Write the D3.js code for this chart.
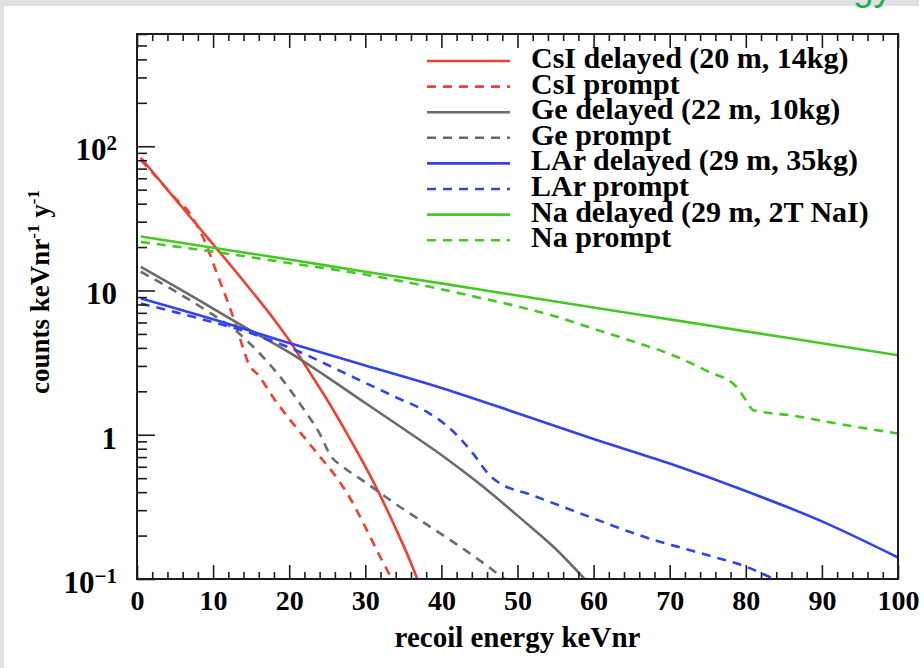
<!DOCTYPE html>
<html><head><meta charset="utf-8">
<script src="https://cdn.jsdelivr.net/npm/d3@7"></script>
<style>
html,body{margin:0;padding:0;background:#fff;}
svg{display:block;}
</style></head>
<body>
<svg id="chart" width="924" height="668"></svg>
<script>
// ---- data ----
const csiDelayedE = [0.5,5,10,15,18,20,22,25,28,31,34,36,37.2];
const csiDelayedV = [83.2,43.2,20.9,10.0,6.31,4.52,3.09,1.74,0.933,0.479,0.224,0.129,0.089];
const csiPromptE = [0.5,3,5,7,8,9,10,11,12,13,14,14.6,16,18,20,22,24,26,28,30,32,33.7];
const csiPromptV = [80.4,57.5,43.7,33.9,27.5,21.4,15.5,11.2,8.13,5.75,3.89,3.16,2.57,1.78,1.29,0.955,0.708,0.525,0.363,0.229,0.141,0.0955];
const geDelayedE = [0.5,5,10,15,20,25,30,35,40,45,50,55,59];
const geDelayedV = [14.6,10.7,7.5,5.25,3.72,2.51,1.66,1.10,0.724,0.457,0.275,0.162,0.0977];
const gePromptE = [0.5,5,9,13,16,19,22,24,25.5,27,30,34,38,42,45,48.3];
const gePromptV = [13.5,9.89,7.33,5.25,3.72,2.45,1.48,1.02,0.708,0.603,0.468,0.331,0.240,0.174,0.135,0.100];
const larDelayedE = [0.5,10,20,30,40,50,60,70,80,90,100];
const larDelayedV = [8.81,6.31,4.32,3.02,2.11,1.41,0.933,0.631,0.407,0.251,0.141];
const larPromptE = [0.5,5,10,14,18,22,26,30,34,38,41,44,46.5,47.5,52,56,60,64,68,72,76,80,82,84.5];
const larPromptV = [8.13,7.08,6.03,5.25,4.42,3.63,2.88,2.29,1.82,1.45,1.12,0.759,0.513,0.468,0.380,0.316,0.263,0.219,0.186,0.162,0.141,0.122,0.110,0.0955];
const naDelayedE = [0.5,10,20,30,40,50,60,70,80,90,100];
const naDelayedV = [23.7,19.8,16.4,13.5,11.2,9.23,7.62,6.31,5.21,4.31,3.56];
const naPromptE = [0.5,10,20,30,38.5,45,50,55,60,65,70,75,78.8,80,81,86,93,100];
const naPromptV = [21.7,18.6,15.5,12.9,10.6,8.91,7.76,6.61,5.43,4.47,3.63,2.75,2.14,1.74,1.48,1.36,1.17,1.02];

const seriesNames = ["CsI delayed (20 m, 14kg)","CsI prompt","Ge delayed (22 m, 10kg)","Ge prompt",
                     "LAr delayed (29 m, 35kg)","LAr prompt","Na delayed (29 m, 2T NaI)","Na prompt"];
const xTickValues = [0,10,20,30,40,50,60,70,80,90,100];
const yTickValues = [0.1,1,10,100];
const yTickBase = ["10","1","10","10"];
const yTickSup = ["\u22121","","","2"];
const xTitle = "recoil energy keVnr";
const yTitleMain = "counts keVnr";
const yTitleMid = " y";
const yTitleSup = "-1";

// ---- styling ----
const colors = ["#f0402f","#f0402f","#6b6b6b","#6b6b6b","#3242ee","#3242ee","#46c824","#46c824"];
const dashed = [false,true,false,true,false,true,false,true];
const serif = "'Liberation Serif','Times New Roman',serif";

const series = [
  [csiDelayedE,csiDelayedV],[csiPromptE,csiPromptV],[geDelayedE,geDelayedV],[gePromptE,gePromptV],
  [larDelayedE,larDelayedV],[larPromptE,larPromptV],[naDelayedE,naDelayedV],[naPromptE,naPromptV]
].map(([E,V],i)=>({name:seriesNames[i],color:colors[i],dashed:dashed[i],pts:E.map((e,j)=>({e,v:V[j]}))}));

const svg = d3.select("#chart");
// page background (screenshot frame)
svg.append("rect").attr("x",0).attr("y",0).attr("width",919).attr("height",6).attr("fill","#dfe0e2");
svg.append("rect").attr("x",0).attr("y",0).attr("width",4).attr("height",668).attr("fill","#dfe0e2");
svg.append("text").attr("x",853).attr("y",0).attr("font-family","'Liberation Sans',Arial,sans-serif")
  .attr("font-size",37).attr("fill","#1fb04c").text("gy");

const L=137, R=898, T=34, B=579;
const x = d3.scaleLinear().domain([0,100]).range([L,R]);
const y = d3.scaleLog().domain([0.1,600]).range([B,T]);

svg.append("defs").append("clipPath").attr("id","clip")
  .append("rect").attr("x",L).attr("y",T).attr("width",R-L).attr("height",B-T);

// curves
const line = d3.line().x(d=>x(d.e)).y(d=>y(d.v)).curve(d3.curveMonotoneX);
const g = svg.append("g").attr("clip-path","url(#clip)");
series.forEach(s=>{
  g.append("path").datum(s.pts).attr("d",line).attr("fill","none")
   .attr("stroke",s.color).attr("stroke-width",2.6)
   .attr("stroke-dasharray",s.dashed?"9,7":null);
});

// axes ticks
const tickColor="#1c1c1c";
const xMinor = d3.range(0,101,2).filter(v=>v%10!==0);
function styleAxis(sel){ sel.select(".domain").remove(); sel.selectAll("line").attr("stroke",tickColor).attr("stroke-width",1.6); }

const xAxis = svg.append("g").attr("transform",`translate(0,${B})`)
  .call(d3.axisBottom(x).tickValues(xTickValues).tickSize(-14).tickPadding(11).tickFormat(d3.format("d")));
styleAxis(xAxis);
xAxis.selectAll("text").attr("font-family",serif).attr("font-weight","bold").attr("font-size",28).attr("fill","#000");
const xAxisMin = svg.append("g").attr("transform",`translate(0,${B})`)
  .call(d3.axisBottom(x).tickValues(xMinor).tickSize(-7).tickFormat(""));
styleAxis(xAxisMin);
const xTop = svg.append("g").attr("transform",`translate(0,${T})`)
  .call(d3.axisTop(x).tickValues(xTickValues).tickSize(-14).tickFormat(""));
styleAxis(xTop);
const xTopMin = svg.append("g").attr("transform",`translate(0,${T})`)
  .call(d3.axisTop(x).tickValues(xMinor).tickSize(-7).tickFormat(""));
styleAxis(xTopMin);

const yMinor = [];
[0.1,1,10,100].forEach(d=>{ for(let k=2;k<=9;k++){ const v=d*k; if(v<=600) yMinor.push(v);} });
const yAxis = svg.append("g").attr("transform",`translate(${L},0)`)
  .call(d3.axisLeft(y).tickValues(yTickValues).tickSize(-18).tickPadding(20).tickFormat(""));
styleAxis(yAxis);
const yAxisMin = svg.append("g").attr("transform",`translate(${L},0)`)
  .call(d3.axisLeft(y).tickValues(yMinor).tickSize(-10).tickFormat(""));
styleAxis(yAxisMin);

// y tick labels
yTickValues.forEach((v,i)=>{
  const t = svg.append("text").attr("x",117).attr("y",y(v)+14).attr("text-anchor","end")
    .attr("font-family",serif).attr("font-weight","bold").attr("font-size",31).attr("fill","#000");
  t.append("tspan").text(yTickBase[i]);
  if(yTickSup[i]) t.append("tspan").attr("dy",-10).attr("font-size",21).text(yTickSup[i]);
});

// frame
svg.append("rect").attr("x",L).attr("y",T).attr("width",R-L).attr("height",B-T)
  .attr("fill","none").attr("stroke","#1c1c1c").attr("stroke-width",2);

// axis titles
svg.append("text").attr("x",(L+R)/2).attr("y",647).attr("text-anchor","middle")
  .attr("font-family",serif).attr("font-weight","bold").attr("font-size",29).attr("fill","#000").text(xTitle);
const yt = svg.append("text").attr("transform","translate(49,292) rotate(-90)").attr("text-anchor","middle")
  .attr("font-family",serif).attr("font-weight","bold").attr("font-size",27).attr("fill","#000");
yt.append("tspan").text(yTitleMain);
yt.append("tspan").attr("dy",-10).attr("font-size",17).text(yTitleSup);
yt.append("tspan").attr("dy",10).text(yTitleMid);
yt.append("tspan").attr("dy",-10).attr("font-size",17).text(yTitleSup);

// legend
const leg = svg.append("g");
series.forEach((s,i)=>{
  const ly = 61 + i*25.6;
  leg.append("line").attr("x1",427).attr("x2",510).attr("y1",ly).attr("y2",ly)
    .attr("stroke",s.color).attr("stroke-width",2.6).attr("stroke-dasharray",s.dashed?"9,7":null);
  leg.append("text").attr("x",531).attr("y",ly+7).attr("font-family",serif).attr("font-weight","bold")
    .attr("font-size",30).attr("fill","#000").text(s.name);
});
</script>
</body></html>
